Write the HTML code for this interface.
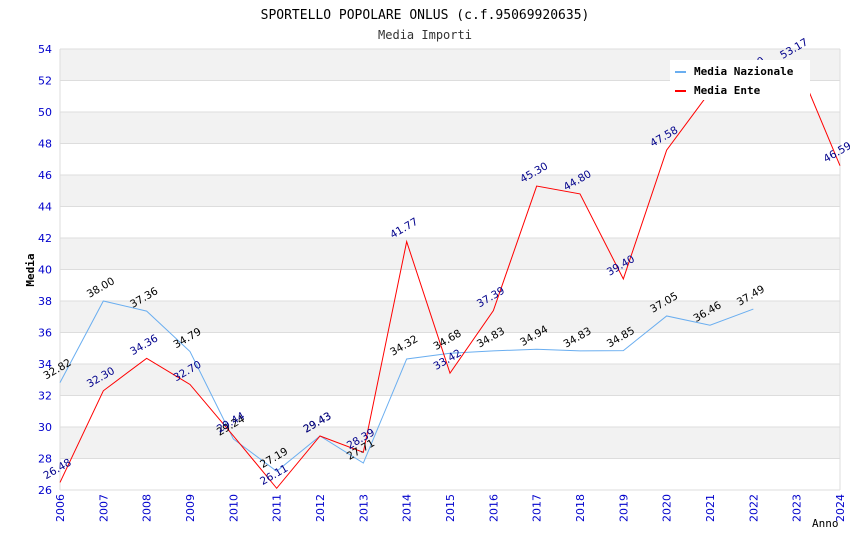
<!DOCTYPE html>
<html><head><meta charset="utf-8"><style>
body{margin:0;background:#fff}
svg{display:block}
.mono{font-family:"DejaVu Sans Mono","Liberation Mono",monospace}
.sans{font-family:"DejaVu Sans","Liberation Sans",sans-serif}
</style></head><body>
<svg id="chart" width="850" height="550" xmlns="http://www.w3.org/2000/svg">
<text x="425" y="19" text-anchor="middle" class="mono" font-size="13">SPORTELLO POPOLARE ONLUS (c.f.95069920635)</text>
<text x="425" y="39" text-anchor="middle" class="mono" font-size="12" fill="#333">Media Importi</text>
<text x="34" y="270" transform="rotate(-90 34 270)" text-anchor="middle" class="mono" font-size="11" font-weight="bold">Media</text>
<text x="812" y="527" class="mono" font-size="11">Anno</text>
<g id="bands"></g><g id="grid"></g><g id="ticks"></g><g id="series"></g><g id="labels"></g>
<g>
<rect x="670" y="60" width="140" height="40" fill="#fff"/>
<line x1="675" y1="72" x2="686" y2="72" stroke="#6aaef0" stroke-width="2"/>
<text x="694" y="75" class="mono" font-size="11" font-weight="bold">Media Nazionale</text>
<line x1="675" y1="91" x2="686" y2="91" stroke="#f00" stroke-width="2"/>
<text x="694" y="94" class="mono" font-size="11" font-weight="bold">Media Ente</text>
</g>
</svg>
<script>
const years=[2006,2007,2008,2009,2010,2011,2012,2013,2014,2015,2016,2017,2018,2019,2020,2021,2022,2023,2024];
const nazionale=[32.82,38.00,37.36,34.79,29.24,27.19,29.43,27.71,34.32,34.68,34.83,34.94,34.83,34.85,37.05,36.46,37.49];
const ente=[26.48,32.30,34.36,32.70,29.44,26.11,29.43,28.39,41.77,33.42,37.39,45.30,44.80,39.40,47.58,51.29,52.00,53.17,46.59];
const yTicks=[26,28,30,32,34,36,38,40,42,44,46,48,50,52,54];
const NS="http://www.w3.org/2000/svg";
const X0=60,X1=840,Y0=490,Y1=49,yMin=26,yMax=54;
const xs=i=>X0+(X1-X0)*i/(years.length-1);
const ys=v=>Y0-(v-yMin)/(yMax-yMin)*(Y0-Y1);
function mk(tag,attrs,parent){const e=document.createElementNS(NS,tag);for(const k in attrs)e.setAttribute(k,attrs[k]);document.getElementById(parent).appendChild(e);return e;}
for(let i=0;i<yTicks.length-1;i++){
 if(i%2===1){const r=mk('rect',{x:X0,y:ys(yTicks[i+1]),width:X1-X0,height:ys(yTicks[i])-ys(yTicks[i+1]),fill:'#f2f2f2'},'bands');
 
 }
}
yTicks.forEach(t=>{
 const l=mk('line',{x1:X0,x2:X1,y1:ys(t),y2:ys(t),stroke:'#ddd'},'grid');
 
 
 const tx=mk('text',{x:X0-8,y:ys(t)+4,'text-anchor':'end',fill:'#00c','font-size':11,class:'sans'},'ticks');
 tx.textContent=t;
 
 
});
mk('line',{x1:X0,x2:X0,y1:Y1,y2:Y0,stroke:'#ddd'},'grid');
mk('line',{x1:X1,x2:X1,y1:Y1,y2:Y0,stroke:'#ddd'},'grid');
years.forEach((y,i)=>{
 const tx=mk('text',{x:xs(i)+4,y:Y0+4,transform:`rotate(-90 ${xs(i)+4} ${Y0+4})`,'text-anchor':'end',fill:'#00c','font-size':11,class:'sans'},'ticks');
 tx.textContent=y;
 
 
});
function series(data,color,lblColor,name){
 const p=mk('polyline',{points:data.map((v,i)=>xs(i)+','+ys(v)).join(' '),fill:'none',stroke:color,'stroke-width':1},'series');
 
 
 data.forEach((v,i)=>{
  const x=xs(i)-14,y=ys(v)-3;
  const t=mk('text',{x:x,y:y,transform:`rotate(-30 ${x} ${y})`,fill:lblColor,'font-size':10.5,class:'sans'},'labels');
  t.textContent=v.toFixed(2);
  
  
 });
}
series(nazionale,'#6aaef0','#000','series-media-nazionale');
series(ente,'#f00','#00008b','series-media-ente');
</script>
</body></html>
